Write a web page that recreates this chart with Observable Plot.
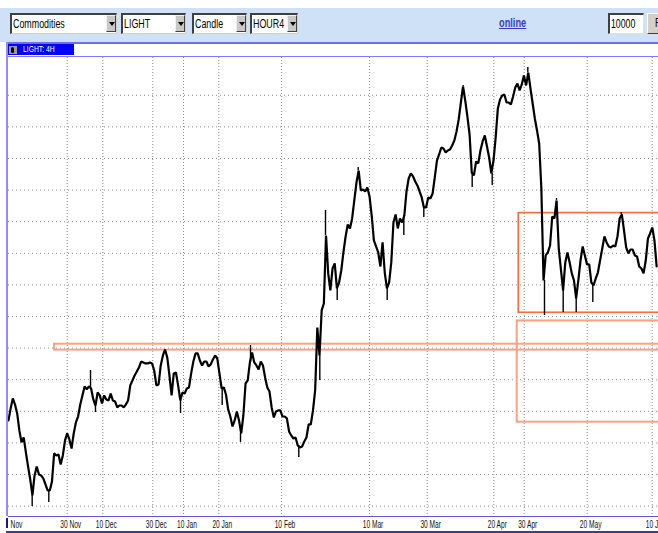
<!DOCTYPE html>
<html>
<head>
<meta charset="utf-8">
<script src="https://cdn.jsdelivr.net/npm/d3@7"></script>
<script src="https://cdn.jsdelivr.net/npm/@observablehq/plot@0.6"></script>
<style>
  body { margin: 0; background: #fff; }
  #wrap { position: relative; width: 658px; height: 533px; overflow: hidden; background: #fff;
          font-family: "Liberation Sans", Arial, sans-serif; }
  .abs { position: absolute; }
  .nt { display: inline-block; transform-origin: 0 50%; white-space: nowrap; }
  #hdr { left: 0; top: 8px; width: 658px; height: 34px; background: #cfe1f7; }
  #hline { left: 6px; top: 42px; width: 652px; height: 2px; background: #6e6ef0; }
  #ftop { left: 6px; top: 55.5px; width: 652px; height: 1.5px; background: #7b7bf5; }
  #lstrip { left: 6px; top: 42px; width: 2px; height: 474px; background: #8e8ef5; }
  #lmark { left: 6px; top: 518px; width: 1.5px; height: 10px; background: #1a1a80; }
  #bline { left: 6px; top: 531px; width: 652px; height: 1.5px; background: #3a3a9a; }
  .sel { top: 13px; height: 21px; box-sizing: border-box; background: #fff;
         border-style: solid; border-width: 2px 1px 1px 2px; border-color: #404040 #d4d0c8 #d4d0c8 #404040;
         font-size: 12.5px; line-height: 18px; padding-left: 1px; color: #000; }
  .sel .nt { transform: scaleX(0.71); }
  .arr { top: 0; right: 0; width: 10px; height: 17px; box-sizing: border-box; background: #c8c8c8;
         border-style: solid; border-width: 1px; border-color: #f0f0f0 #404040 #404040 #f0f0f0; }
  .arr::after { content: ""; position: absolute; left: 1.5px; top: 6px; border-left: 3px solid transparent;
                border-right: 3px solid transparent; border-top: 4px solid #000; }
  #online { left: 499px; top: 16px; font-size: 12.5px; font-weight: bold; color: #3a3acc; }
  #online .nt { transform: scaleX(0.74); text-decoration: underline; }
  #inp { left: 608px; top: 13px; width: 36px; height: 21px; box-sizing: border-box; background: #fff;
         border-style: solid; border-width: 2px 1px 1px 2px; border-color: #404040 #e0e0e0 #e0e0e0 #404040;
         font-size: 12.5px; line-height: 18px; padding-left: 1px; }
  #inp .nt { transform: scaleX(0.7); }
  #btn { left: 647px; top: 13px; width: 24px; height: 21px; box-sizing: border-box; background: #d4d0c8;
         border-style: solid; border-width: 1px; border-color: #ffffff #404040 #404040 #ffffff;
         font-size: 12.5px; line-height: 19px; padding-left: 7px; color: #000; }
  #btn .nt { transform: scaleX(0.72); }
  #lab { left: 6px; top: 44px; width: 68px; height: 11px; background: #0000ff; }
  #icon { left: 8.5px; top: 46px; width: 8px; height: 8px; background: #9a9a9a; }
  #icon::after { content: ""; position: absolute; left: 2.5px; top: 1px; width: 3px; height: 6px; background: #000; border-radius: 2px; }
  #labtxt { left: 23px; top: 44px; font-size: 9px; line-height: 11px; color: #fff; }
  #labtxt .nt { transform: scaleX(0.75); }
  #chart { left: 0; top: 57px; }
</style>
</head>
<body>
<div id="wrap">
  <div id="hdr" class="abs"></div>
  <div class="abs sel" style="left:10px;width:107px;"><span class="nt">Commodities</span><div class="abs arr"></div></div>
  <div class="abs sel" style="left:121px;width:65px;"><span class="nt">LIGHT</span><div class="abs arr"></div></div>
  <div class="abs sel" style="left:192px;width:55px;"><span class="nt">Candle</span><div class="abs arr"></div></div>
  <div class="abs sel" style="left:250px;width:48px;"><span class="nt">HOUR4</span><div class="abs arr"></div></div>
  <div id="online" class="abs"><span class="nt">online</span></div>
  <div id="inp" class="abs"><span class="nt">10000</span></div>
  <div id="btn" class="abs"><span class="nt">F</span></div>
  <div id="hline" class="abs"></div>
  <div id="lab" class="abs"></div>
  <div id="icon" class="abs"></div>
  <div id="labtxt" class="abs"><span class="nt">LIGHT: 4H</span></div>
  <div id="ftop" class="abs"></div>
  <div id="chart" class="abs"></div>
  <div id="lstrip" class="abs"></div>
  <div id="lmark" class="abs"></div>
  <div id="bline" class="abs"></div>
</div>
<script>
// ---- Data (x in trading days, 0 = 30 Nov; y = price) ----
const seriesStart = -13.5;   // trading-day index of first half-day bar
const seriesStep = 0.5;      // half-day bars
const closePrices = [
  86.78, 87.73, 88.52, 88.04, 87.33, 85.99, 85.04, 85.43, 84.25, 83.14,
  82.11, 80.85, 82.43, 83.14, 82.51, 82.43, 82.19, 81.72, 81.24, 81.24,
  81.95, 84.17, 84.01, 84.09, 83.30, 84.01, 85.20, 85.75, 85.28, 84.56,
  85.75, 86.62, 87.09, 88.04, 88.76, 89.47, 89.23, 89.47, 89.31, 88.44,
  87.96, 88.99, 88.76, 88.12, 88.76, 88.44, 88.36, 88.91, 88.36, 88.28,
  87.81, 87.96, 87.96, 87.81, 88.04, 88.36, 89.55, 89.94, 90.34, 90.65,
  90.97, 91.44, 91.37, 91.29, 91.29, 91.37, 91.29, 90.73, 89.55, 89.63,
  91.13, 91.92, 92.39, 91.76, 90.34, 88.76, 90.50, 90.57, 89.55, 88.36,
  88.99, 88.91, 89.31, 89.39, 90.50, 91.44, 92.08, 92.08, 91.52, 91.13,
  91.44, 91.44, 91.05, 91.21, 91.60, 91.92, 91.68, 90.50, 89.31, 89.39,
  88.83, 87.65, 87.09, 86.30, 86.78, 87.49, 86.78, 85.75, 87.17, 89.70,
  89.94, 91.37, 92.16, 91.37, 91.13, 90.81, 91.44, 91.13, 90.18, 89.39,
  89.07, 87.81, 87.02, 87.49, 87.57, 87.57, 87.09, 87.09, 86.94, 85.91,
  85.59, 85.35, 85.43, 84.80, 84.64, 84.72, 85.12, 85.43, 86.46, 86.46,
  87.57, 89.15, 94.13, 91.92, 95.48, 96.03, 101.41, 98.41, 97.06, 98.80,
  99.20, 97.22, 97.69, 98.64, 100.07, 101.33, 102.28, 101.97, 102.76, 104.18,
  105.60, 106.55, 104.97, 105.05, 104.89, 105.21, 104.50, 102.99, 101.02, 100.54,
  100.07, 98.96, 100.86, 98.48, 97.22, 97.69, 99.28, 102.44, 103.07, 101.97,
  102.76, 102.44, 102.99, 104.89, 105.92, 106.32, 106.08, 105.68, 105.37, 104.89,
  104.42, 103.63, 103.63, 104.42, 104.34, 104.73, 106.00, 107.34, 107.82, 108.37,
  108.29, 107.98, 108.13, 108.21, 108.53, 108.93, 109.64, 110.59, 111.93, 113.20,
  112.09, 110.82, 109.40, 106.39, 106.16, 107.26, 107.11, 108.13, 108.85, 109.32,
  108.45, 107.58, 106.32, 107.34, 109.16, 111.46, 112.17, 112.49, 112.56, 111.93,
  111.93, 111.77, 112.41, 113.12, 113.43, 112.88, 113.36, 114.07, 113.28, 114.30,
  113.04, 111.85, 110.67, 109.72, 108.69, 105.13, 97.85, 99.83, 100.07, 100.62,
  102.91, 102.76, 104.18, 100.38, 98.72, 97.06, 99.28, 100.07, 99.28, 98.41,
  97.85, 96.43, 97.85, 99.43, 100.54, 99.83, 99.12, 99.12, 97.69, 97.46,
  98.01, 98.48, 99.43, 100.38, 101.33, 100.86, 100.54, 100.46, 100.62, 100.54,
  101.33, 102.76, 103.07, 101.81, 100.46, 99.99, 100.30, 100.30, 99.83, 99.75,
  98.96, 98.80, 98.41, 99.43, 101.17, 101.57, 102.04, 101.02, 98.96
];
// extreme candle wicks
const wickT = [-8.05, -4.23, 5.36, 6.5, 26.05, 35.63, 39.84, 42.14, 53.24, 58.07, 59.38, 62.07, 66.9,
               73.56, 77.38, 81.98, 91.03, 93.1, 97.7, 105.89, 109.72, 112.48, 114.02, 117.01, 120.83, 127.36];
const wickP = [79.98, 80.29, 90.73, 87.41, 87.33, 87.96, 85.04, 92.71, 83.85, 89.94, 103.39, 96.27, 106.79,
               96.27, 101.41, 102.84, 113.28, 105.21, 105.37, 114.70, 95.08, 104.34, 95.32, 95.32, 96.11, 103.23];
// x-axis tick labels and their trading-day positions
const tickLabels = ["Nov", "30 Nov", "10 Dec", "30 Dec", "10 Jan", "20 Jan", "10 Feb", "10 Mar", "30 Mar", "20 Apr", "30 Apr", "20 May", "10 Jun"];
const tickPos = [-12.46, 0, 8.18, 19.68, 26.74, 34.85, 49.26, 69.49, 82.76, 98.07, 105.06, 119.54, 134.48];
// horizontal grid levels
const gridLevels = [80, 82.5, 85, 87.5, 90, 92.5, 95, 97.5, 100, 102.5, 105, 107.5, 110, 112.5];
// drawn zones
const zoneStart = [-2.92, 103.8, 103.45];
const zoneLow = [92.34, 95.30, 86.64];
const zoneHigh = [92.81, 103.18, 94.65];
const zoneColor = ["#ffa185", "#ff6a3d", "#ffa080"];
const zoneWidth = [2, 1.6, 2];

// ---- Build tables ----
const series = closePrices.map((p, i) => ({t: seriesStart + i * seriesStep, p}));
const wicks = wickT.map((t, i) => {
  const k = Math.max(0, Math.min(closePrices.length - 1, Math.round((t - seriesStart) / seriesStep)));
  return {t, p1: wickP[i], p2: closePrices[k]};
});
const ticks = tickLabels.map((label, i) => ({label, t: tickPos[i]}));
const zones = zoneStart.map((s, i) => ({x1: s, x2: 140, y1: zoneLow[i], y2: zoneHigh[i], c: zoneColor[i], w: zoneWidth[i]}));

const font = '"Liberation Sans", Arial, sans-serif';

const chart = Plot.plot({
  width: 658,
  height: 476,
  marginTop: 0,
  marginBottom: 17,
  marginLeft: 8,
  marginRight: 0,
  x: {type: "linear", domain: [-13.494, 135.93], axis: null},
  y: {type: "linear", domain: [79.18, 115.49], axis: null},
  style: {background: "transparent", fontFamily: font},
  marks: [
    Plot.ruleY(gridLevels, {stroke: "#8c8c8c", strokeWidth: 1, strokeDasharray: "1,3"}),
    Plot.ruleX(ticks.filter(d => d.label !== "Nov"), {x: "t", stroke: "#8c8c8c", strokeWidth: 1, strokeDasharray: "1,2"}),
    Plot.rect(zones, {x1: "x1", x2: "x2", y1: "y1", y2: "y2", fill: "none", stroke: d => d.c, strokeWidth: d => d.w, clip: true}),
    Plot.ruleX(wicks, {x: "t", y1: "p1", y2: "p2", stroke: "#000", strokeWidth: 1.4}),
    Plot.line(series, {x: "t", y: "p", stroke: "#000", strokeWidth: 2.2, strokeLinejoin: "miter"}),
    Plot.frame({anchor: "bottom", stroke: "#5a5ad0", strokeWidth: 1.2}),
    Plot.text(ticks, {x: "t", text: "label", frameAnchor: "bottom", lineAnchor: "top", dy: 4.5, dx: 3.5,
                      fontSize: 10.5, fill: "#111", fontFamily: font})
  ]
});
// condense the axis labels horizontally (narrow bitmap-like font of the original)
chart.querySelectorAll('g[aria-label="text"] text').forEach(el => {
  const tr = el.getAttribute("transform") || "";
  const x = parseFloat(el.getAttribute("x")) || 0;
  el.setAttribute("transform", `${tr} translate(${x},0) scale(0.63,1) translate(${-x},0)`);
});
document.getElementById("chart").appendChild(chart);
</script>
</body>
</html>
